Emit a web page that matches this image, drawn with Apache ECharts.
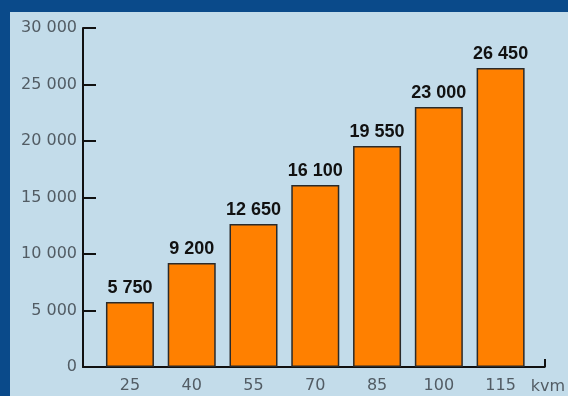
<!DOCTYPE html>
<html>
<head>
<meta charset="utf-8">
<script src="https://cdn.jsdelivr.net/npm/echarts@6/dist/echarts.min.js"></script>
<style>
html,body{margin:0;padding:0;background:#0a4a8a;}
#chart{width:568px;height:396px;}
</style>
</head>
<body>
<div id="chart"></div>
<script>
// Data
var categories = [25, 40, 55, 70, 85, 100, 115];
var values = [5750, 9200, 12650, 16100, 19550, 23000, 26450];
var yTicks = [0, 5000, 10000, 15000, 20000, 25000, 30000];
var unitLabel = 'kvm';

function fmt(v) {
  return String(v).replace(/\B(?=(\d{3})+(?!\d))/g, ' ');
}

var chart = echarts.init(document.getElementById('chart'), null, {renderer: 'canvas'});
var barData = categories.map(function (c, i) { return [c, values[i]]; });
var axisFont = 'DejaVu Sans, Verdana, sans-serif';

chart.setOption({
  backgroundColor: '#c3dcea',
  animation: false,
  graphic: [
    {type: 'rect', shape: {x: 0, y: 0, width: 568, height: 12}, style: {fill: '#0a4a8a'}, z: 100},
    {type: 'rect', shape: {x: 0, y: 0, width: 10, height: 396}, style: {fill: '#0a4a8a'}, z: 100}
  ],
  grid: {left: 83, right: 23, top: 28, bottom: 29, containLabel: false},
  xAxis: {
    type: 'value',
    min: 13.6,
    max: 125.7,
    splitLine: {show: false},
    axisLine: {show: true, lineStyle: {color: '#111', width: 2}},
    axisTick: {show: true, inside: true, length: 8, customValues: [125.7], lineStyle: {color: '#111', width: 2}},
    axisLabel: {
      customValues: categories,
      margin: 11,
      color: '#525c64',
      fontFamily: axisFont,
      fontSize: 16,
      formatter: function (v) { return String(Math.round(v)); }
    },
    name: unitLabel,
    nameLocation: 'end',
    nameGap: -14,
    nameTextStyle: {
      color: '#525c64',
      fontFamily: axisFont,
      fontSize: 16,
      align: 'left',
      verticalAlign: 'top',
      padding: [12, 0, 0, 0]
    }
  },
  yAxis: {
    type: 'value',
    min: 0,
    max: 30000,
    interval: 5000,
    splitLine: {show: false},
    axisLine: {show: true, lineStyle: {color: '#111', width: 2}},
    axisTick: {show: true, inside: true, length: 13, lineStyle: {color: '#111', width: 2}},
    axisLabel: {
      margin: 6,
      color: '#525c64',
      fontFamily: axisFont,
      fontSize: 16,
      formatter: function (v) { return fmt(v); }
    }
  },
  series: [{
    type: 'bar',
    data: barData,
    barWidth: 48,
    itemStyle: {color: '#ff8000', borderColor: '#2a2a2a', borderWidth: 1.5},
    label: {
      show: true,
      position: 'top',
      distance: 5,
      color: '#111',
      fontFamily: 'Liberation Sans, Arial, sans-serif',
      fontWeight: 'bold',
      fontSize: 18,
      formatter: function (p) { return fmt(p.value[1]); }
    }
  }]
});
</script>
</body>
</html>
